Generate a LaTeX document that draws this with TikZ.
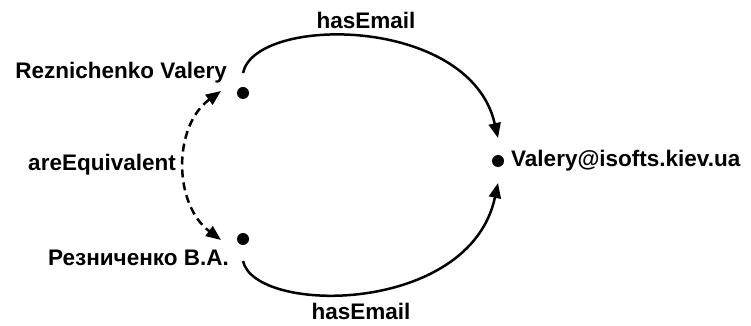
\documentclass[tikz,border=0pt]{standalone}
\usepackage{fontspec}
\setmainfont{Liberation Sans}
\usetikzlibrary{arrows.meta}

\begin{document}
\begin{tikzpicture}[x=1pt,y=1pt,
  dot/.style={circle, fill=black, inner sep=0pt, minimum size=12pt},
  lbl/.style={font=\fontsize{22.5}{26}\selectfont\bfseries, inner sep=0pt},
  rel/.style={line width=2.5pt, -{Triangle[length=15pt,width=12pt]}}]

 \useasboundingbox (0,0) rectangle (751,326);

 \node[dot] (vr) at (243,233) {};
 \node[dot] (ru) at (243,87) {};
 \node[dot] (em) at (498,165) {};

 \node[lbl, anchor=east] (vrname) at (227,253) {Reznichenko Valery};
 \node[lbl, anchor=east] (runame) at (229,68) {Резниченко В.А.};
 \node[lbl, anchor=west] (emname) at (511,165) {Valery@isofts.kiev.ua};
 \node[lbl, anchor=east] (equiv) at (176,161) {areEquivalent};
 \node[lbl] (mailtop) at (366,306) {hasEmail};
 \node[lbl, anchor=base] (mailbot) at (361,6) {hasEmail};

 \coordinate (vrout) at ([yshift=20pt]vr.center);
 \coordinate (ruout) at ([yshift=-22pt]ru.center);
 \coordinate (emtop) at ([yshift=23pt]em.center);
 \coordinate (embot) at ([yshift=-22pt]em.center);
 \coordinate (eqtop) at ([shift={(-22pt,2pt)}]vr.center);
 \coordinate (eqbot) at ([shift={(-22pt,-1pt)}]ru.center);

 \draw[rel] (vrout) .. controls (255,311) and (470,311) .. (emtop);
 \draw[rel] (ruout) .. controls (255,11) and (470,11) .. (embot);
 \draw[rel, {Triangle[length=15pt,width=12pt]}-{Triangle[length=15pt,width=12pt]},
   dash pattern=on 8pt off 5pt] (eqtop) .. controls (173,200) and (173,122) .. (eqbot);

\end{tikzpicture}
\end{document}
